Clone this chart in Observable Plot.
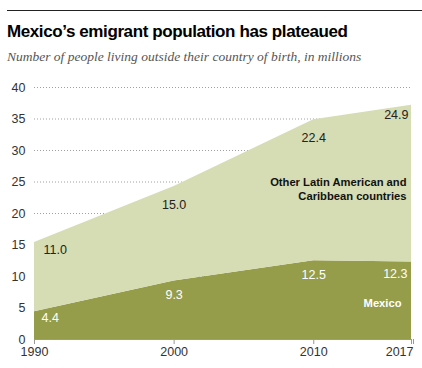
<!DOCTYPE html>
<html>
<head>
<meta charset="utf-8">
<script src="https://cdn.jsdelivr.net/npm/d3@7"></script>
<script src="https://cdn.jsdelivr.net/npm/@observablehq/plot@0.6"></script>
<style>
  html, body { margin: 0; padding: 0; background: #fff; }
  #wrap { width: 422px; height: 368px; overflow: hidden; }
  .rule { margin: 10px 0 0 7px; height: 0; border-top: 1px solid #222; }
  h1 { margin: 11px 0 0 7px; height: 20px; font: bold 17px "Liberation Sans", Arial, sans-serif; line-height: 20px; color: #000; letter-spacing: -0.4px; white-space: nowrap; }
  .sub { margin: 6px 0 0 7px; height: 17px; font: italic 13.5px "Liberation Serif", serif; line-height: 17px; color: #555; white-space: nowrap; }
  #chart { margin-top: 5px; height: 297px; }
  #chart svg { display: block; }
</style>
</head>
<body>
<div id="wrap">
  <div class="rule"></div>
  <h1>Mexico’s emigrant population has plateaued</h1>
  <div class="sub">Number of people living outside their country of birth, in millions</div>
  <div id="chart"></div>
</div>
<script>
const years = [1990, 2000, 2010, 2017];
const mexico = [4.4, 9.3, 12.5, 12.3];
const otherLatAm = [11.0, 15.0, 22.4, 24.9];
const groups = ["Mexico", "Other Latin American and Caribbean countries"];
const colors = ["#969d4a", "#d6dcb3"];
const yTicks = [0, 5, 10, 15, 20, 25, 30, 35, 40];

const rows = [];
years.forEach((yr, i) => {
  rows.push({year: yr, group: groups[0], value: mexico[i]});
  rows.push({year: yr, group: groups[1], value: otherLatAm[i]});
});
const mexRows = years.map((yr, i) => ({year: yr, v: mexico[i], top: mexico[i]}));
const othRows = years.map((yr, i) => ({year: yr, v: otherLatAm[i], top: mexico[i] + otherLatAm[i]}));
const fmt = d => d.toFixed(1);
const lastYear = years[years.length - 1];
const lblFont = {fontSize: 12.5, fontFamily: "Liberation Sans, Arial, sans-serif"};

const chart = Plot.plot({
  width: 422,
  height: 297,
  marginLeft: 34,
  marginRight: 11,
  marginTop: 17,
  marginBottom: 28,
  style: {fontFamily: "Liberation Sans, Arial, sans-serif", fontSize: "12px", color: "#444", background: "transparent", overflow: "visible"},
  x: {domain: [1990, 2017], label: null},
  y: {domain: [0, 40], label: null},
  color: {domain: groups, range: colors},
  marks: [
    Plot.gridY(yTicks.filter(t => t > 0), {stroke: "#888", strokeOpacity: 1, strokeDasharray: "1,2", strokeWidth: 0.8}),
    Plot.areaY(rows, {x: "year", y: "value", fill: "group", order: groups}),
    Plot.ruleY([0], {stroke: "#999"}),
    Plot.axisX({ticks: years, tickFormat: d => d === lastYear ? "" : String(d), tickSize: 5, stroke: "#999", fontSize: 12.5, fill: "#333", tickPadding: 3, label: null}),
    Plot.axisX({ticks: [lastYear], tickFormat: d => String(d), tickSize: 5, stroke: "#999", fontSize: 12.5, fill: "#333", tickPadding: 3, textAnchor: "end", dx: 2, label: null}),
    Plot.axisY({ticks: yTicks, tickSize: 0, tickPadding: 9, fontSize: 12.5, fill: "#333", label: null}),
    Plot.text(othRows.slice(0, 1), {x: "year", y: "top", text: d => fmt(d.v), textAnchor: "start", dx: 9, dy: 8, fill: "#222", ...lblFont}),
    Plot.text(othRows.slice(1, 3), {x: "year", y: "top", text: d => fmt(d.v), dy: 18.5, fill: "#222", ...lblFont}),
    Plot.text(othRows.slice(3), {x: "year", y: "top", text: d => fmt(d.v), textAnchor: "end", dx: -3, dy: 10, fill: "#222", ...lblFont}),
    Plot.text(mexRows.slice(0, 1), {x: "year", y: "top", text: d => fmt(d.v), textAnchor: "start", dx: 7, dy: 6.5, fill: "#fff", ...lblFont}),
    Plot.text(mexRows.slice(1, 3), {x: "year", y: "top", text: d => fmt(d.v), dy: 14, fill: "#fff", ...lblFont}),
    Plot.text(mexRows.slice(3), {x: "year", y: "top", text: d => fmt(d.v), textAnchor: "end", dx: -4, dy: 12, fill: "#fff", ...lblFont}),
    Plot.text([groups[1]], {x: 2017, y: 24, text: d => "Other Latin American and\nCaribbean countries", textAnchor: "end", dx: -5, lineHeight: 1.27, fontWeight: "bold", fontSize: 11.2, fill: "#111", fontFamily: "Liberation Sans, Arial, sans-serif"}),
    Plot.text([groups[0]], {x: 2017, y: 5.7, text: d => d, textAnchor: "end", dx: -10, fontWeight: "bold", fontSize: 11.2, fill: "#fff", fontFamily: "Liberation Sans, Arial, sans-serif"})
  ]
});
document.getElementById("chart").appendChild(chart);
</script>
</body>
</html>
